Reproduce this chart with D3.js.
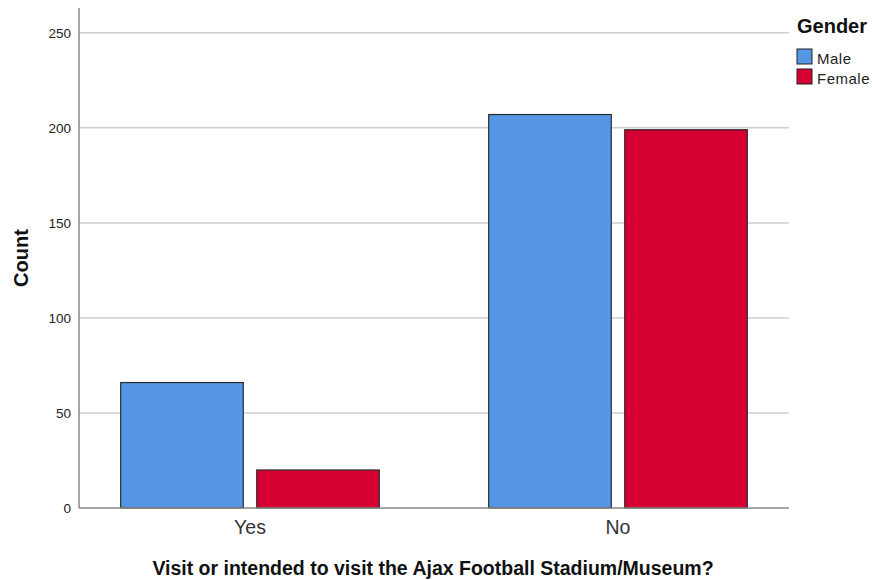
<!DOCTYPE html>
<html><head><meta charset="utf-8">
<script src="https://cdn.jsdelivr.net/npm/d3@7"></script>
<style>body{margin:0;background:#fff}svg{display:block}text{font-family:Arial,"Liberation Sans",sans-serif}</style>
</head><body><div id="c"></div>
<script>
const categories = ["Yes", "No"];
const seriesNames = ["Male", "Female"];
const maleCounts = [66, 207];
const femaleCounts = [20, 199];
const yTicks = [0, 50, 100, 150, 200, 250];
const colors = ["#5596e5", "#d60032"];

const W = 872, H = 580;
const svg = d3.select("#c").append("svg").attr("width", W).attr("height", H);
const x0 = 79, x1 = 789, yTop = 8, yBase = 508;

const y = d3.scaleLinear().domain([0, 250]).range([yBase, 32.8]);
const xb = d3.scaleBand().domain(categories).range([66, 802]).paddingInner(0).paddingOuter(0);
const xs = d3.scaleBand().domain(seriesNames).range([0, xb.bandwidth()]).paddingInner(0.099).paddingOuter(0.402);

// gridlines
svg.append("g").selectAll("line").data(yTicks.filter(d => d > 0)).join("line")
  .attr("x1", x0).attr("x2", x1).attr("y1", d => y(d)).attr("y2", d => y(d))
  .attr("stroke", "#cfcfcf").attr("stroke-width", 1.5);

// y axis
const ya = svg.append("g").attr("transform", `translate(${x0},0)`)
  .call(d3.axisLeft(y).tickValues(yTicks).tickSize(0).tickPadding(8));
ya.select(".domain").remove();
ya.selectAll("text").attr("font-size", 13.5).attr("fill", "#222");
svg.append("line").attr("x1", x0).attr("x2", x0).attr("y1", yTop).attr("y2", yBase)
  .attr("stroke", "#888").attr("stroke-width", 1.5);

// bars
const data = categories.map((c, i) => ({c, vals: [maleCounts[i], femaleCounts[i]]}));
const g = svg.append("g").selectAll("g").data(data).join("g")
  .attr("transform", d => `translate(${xb(d.c)},0)`);
g.selectAll("rect").data(d => d.vals.map((v, j) => ({s: seriesNames[j], v, j}))).join("rect")
  .attr("x", d => xs(d.s)).attr("width", xs.bandwidth())
  .attr("y", d => y(d.v)).attr("height", d => yBase - y(d.v))
  .attr("fill", d => colors[d.j]).attr("stroke", "#2b2b2b").attr("stroke-width", 1.2);

// x baseline
svg.append("line").attr("x1", x0).attr("x2", x1).attr("y1", yBase).attr("y2", yBase)
  .attr("stroke", "#888").attr("stroke-width", 1.5);

// x axis labels
const xa = svg.append("g").attr("transform", `translate(0,${yBase})`)
  .call(d3.axisBottom(xb).tickSize(0).tickPadding(12));
xa.select(".domain").remove();
xa.selectAll("text").attr("font-size", 19.5).attr("fill", "#333");

// axis titles
svg.append("text").attr("x", 433).attr("y", 575).attr("text-anchor", "middle")
  .attr("font-size", 19.5).attr("font-weight", "bold").attr("fill", "#111")
  .text("Visit or intended to visit the Ajax Football Stadium/Museum?");
svg.append("text").attr("transform", "translate(28,258) rotate(-90)").attr("text-anchor", "middle")
  .attr("font-size", 20).attr("font-weight", "bold").attr("fill", "#111").text("Count");

// legend
svg.append("text").attr("x", 797).attr("y", 33).attr("font-size", 20).attr("font-weight", "bold")
  .attr("fill", "#111").text("Gender");
const lg = svg.append("g").selectAll("g").data(seriesNames).join("g")
  .attr("transform", (d, i) => `translate(797,${49 + i * 20})`);
lg.append("rect").attr("width", 15).attr("height", 15).attr("fill", (d, i) => colors[i])
  .attr("stroke", "#222").attr("stroke-width", 1);
lg.append("text").attr("x", 20).attr("y", 15).attr("font-size", 15).attr("letter-spacing", 0.5)
  .attr("fill", "#222").text(d => d);
</script></body></html>
